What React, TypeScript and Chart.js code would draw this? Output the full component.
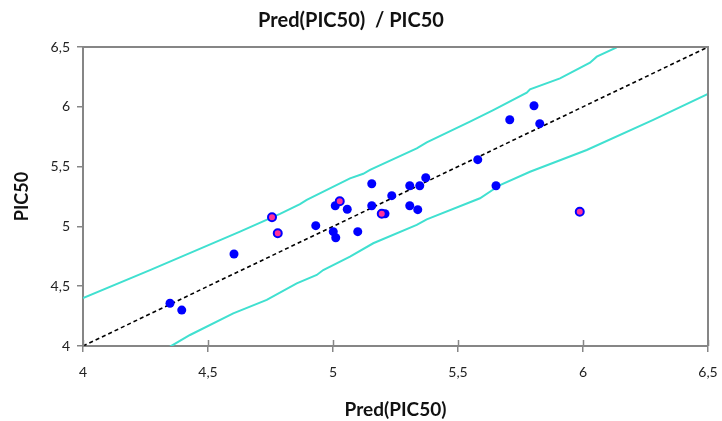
import React, { useEffect, useRef } from "react";
import { Chart, registerables } from "chart.js";

Chart.register(...registerables);

const chartTitle = "Pred(PIC50)  / PIC50";
const xAxisTitle = "Pred(PIC50)";
const yAxisTitle = "PIC50";

const tickValues = [4, 4.5, 5, 5.5, 6, 6.5];
const tickLabels = ["4", "4,5", "5", "5,5", "6", "6,5"];

// Predicted (x) vs observed PIC50 (y)
const blueX = [4.348, 4.395, 4.604, 4.931, 5.001, 5.011, 5.009, 5.057, 5.099, 5.155, 5.155, 5.208, 5.235, 5.307, 5.307, 5.339, 5.347, 5.371, 5.579, 5.652, 5.707, 5.804, 5.827];
const blueY = [4.357, 4.30, 4.769, 5.006, 4.956, 4.905, 5.173, 5.143, 4.956, 5.357, 5.173, 5.106, 5.257, 5.340, 5.173, 5.140, 5.340, 5.407, 5.558, 5.340, 5.892, 6.009, 5.859];

const pinkX = [4.756, 4.779, 5.027, 5.195, 5.987];
const pinkY = [5.076, 4.942, 5.21, 5.106, 5.123];

const upperX = [4.0, 4.268, 4.628, 4.788, 4.868, 4.895, 5.068, 5.121, 5.148, 5.335, 5.375, 5.548, 5.641, 5.775, 5.788, 5.908, 6.028, 6.055, 6.135];
const upperY = [4.401, 4.635, 4.956, 5.104, 5.186, 5.221, 5.402, 5.440, 5.472, 5.653, 5.703, 5.876, 5.973, 6.118, 6.146, 6.238, 6.369, 6.419, 6.497];

const lowerX = [4.348, 4.428, 4.601, 4.735, 4.855, 4.935, 4.961, 5.068, 5.161, 5.335, 5.375, 5.588, 5.668, 5.788, 6.015, 6.281, 6.5];
const lowerY = [3.994, 4.092, 4.273, 4.385, 4.524, 4.594, 4.635, 4.747, 4.859, 5.012, 5.059, 5.235, 5.346, 5.457, 5.639, 5.890, 6.107];

const diagX = [4, 6.5];
const diagY = [4, 6.5];

const FONT = "Lato";
const AXIS_GRAY = "#868686";

const zip = (xs: number[], ys: number[]) => xs.map((x, i) => ({ x, y: ys[i] }));

const decorPlugin = {
  id: "decor",
  afterDatasetsDraw(chart: any) {
    const { ctx, chartArea } = chart;
    const { left, right, top, bottom } = chartArea;
    ctx.save();
    ctx.strokeStyle = AXIS_GRAY;
    ctx.lineWidth = 2;
    ctx.beginPath();
    ctx.moveTo(left, top);
    ctx.lineTo(right, top);
    ctx.lineTo(right, bottom);
    ctx.stroke();
    // inner half of x ticks
    const xs = chart.scales.x;
    ctx.lineWidth = 1.5;
    ctx.beginPath();
    tickValues.forEach((v) => {
      const px = Math.round(xs.getPixelForValue(v)) + 0.5;
      ctx.moveTo(px, bottom);
      ctx.lineTo(px, bottom - 6);
    });
    ctx.stroke();
    ctx.restore();
  },
  afterDraw(chart: any) {
    const { ctx } = chart;
    ctx.save();
    ctx.fillStyle = "#111";
    ctx.font = `bold 20px ${FONT}`;
    ctx.textAlign = "center";
    ctx.textBaseline = "middle";
    ctx.fillText(chartTitle, 351, 21);
    ctx.restore();
  },
};

export default function App() {
  const ref = useRef<HTMLCanvasElement | null>(null);
  useEffect(() => {
    document.body.style.margin = "0";
    const canvas = ref.current;
    if (!canvas) return;
    const tickLabel = (v: any) => {
      const i = tickValues.findIndex((t) => Math.abs(t - Number(v)) < 1e-6);
      return i >= 0 ? tickLabels[i] : "";
    };
    const chart = new Chart(canvas, {
      type: "scatter",
      data: {
        datasets: [
          {
            label: "pink",
            data: zip(pinkX, pinkY),
            backgroundColor: "#ff3399",
            borderColor: "#0000ff",
            borderWidth: 2,
            pointRadius: 4,
            order: 0,
          },
          {
            label: "blue",
            data: zip(blueX, blueY),
            backgroundColor: "#0000ff",
            borderColor: "#0000ff",
            borderWidth: 0,
            pointRadius: 4.5,
            order: 1,
          },
          {
            label: "diag",
            data: zip(diagX, diagY),
            showLine: true,
            borderColor: "#000000",
            borderWidth: 1.6,
            borderDash: [4, 3],
            pointRadius: 0,
            order: 2,
          } as any,
          {
            label: "upper",
            data: zip(upperX, upperY),
            showLine: true,
            borderColor: "#40e0d0",
            borderWidth: 2,
            pointRadius: 0,
            order: 3,
          },
          {
            label: "lower",
            data: zip(lowerX, lowerY),
            showLine: true,
            borderColor: "#40e0d0",
            borderWidth: 2,
            pointRadius: 0,
            order: 4,
          },
        ],
      },
      options: {
        responsive: false,
        animation: false,
        layout: { padding: { left: 0, right: 14, top: 47, bottom: 0 } },
        plugins: {
          legend: { display: false },
          tooltip: { enabled: false },
          title: { display: false },
        },
        scales: {
          x: {
            type: "linear",
            min: 4,
            max: 6.5,
            afterFit: (s: any) => {
              s.height = 75;
              s.paddingLeft = 0;
              s.paddingRight = 0;
            },
            afterBuildTicks: (s: any) => {
              s.ticks = tickValues.map((v) => ({ value: v }));
            },
            border: { color: AXIS_GRAY, width: 2 },
            grid: {
              display: true,
              drawOnChartArea: false,
              drawTicks: true,
              tickLength: 6,
              color: AXIS_GRAY,
              lineWidth: 1.5,
            },
            ticks: {
              callback: tickLabel,
              padding: 12,
              maxRotation: 0,
              color: "#222",
              font: { family: FONT, size: 14 },
            },
            title: {
              display: true,
              text: xAxisTitle,
              color: "#111",
              font: { family: FONT, size: 19, weight: "bold" },
              padding: { top: 0, bottom: 0 },
            },
          },
          y: {
            type: "linear",
            min: 4,
            max: 6.5,
            afterFit: (s: any) => {
              s.width = 83;
              s.paddingTop = 0;
              s.paddingBottom = 0;
            },
            afterBuildTicks: (s: any) => {
              s.ticks = tickValues.map((v) => ({ value: v }));
            },
            border: { color: AXIS_GRAY, width: 2 },
            grid: {
              display: true,
              drawOnChartArea: false,
              drawTicks: true,
              tickLength: 6,
              color: AXIS_GRAY,
              lineWidth: 1.5,
            },
            ticks: {
              callback: tickLabel,
              padding: 7,
              color: "#222",
              font: { family: FONT, size: 14 },
            },
            title: {
              display: true,
              text: yAxisTitle,
              color: "#111",
              font: { family: FONT, size: 18, weight: "bold" },
              padding: { top: 11, bottom: 0 },
            },
          },
        },
      },
      plugins: [decorPlugin],
    } as any);
    return () => chart.destroy();
  }, []);
  return (
    <div style={{ width: 722, height: 421 }}>
      <canvas ref={ref} width={722} height={421} />
    </div>
  );
}
